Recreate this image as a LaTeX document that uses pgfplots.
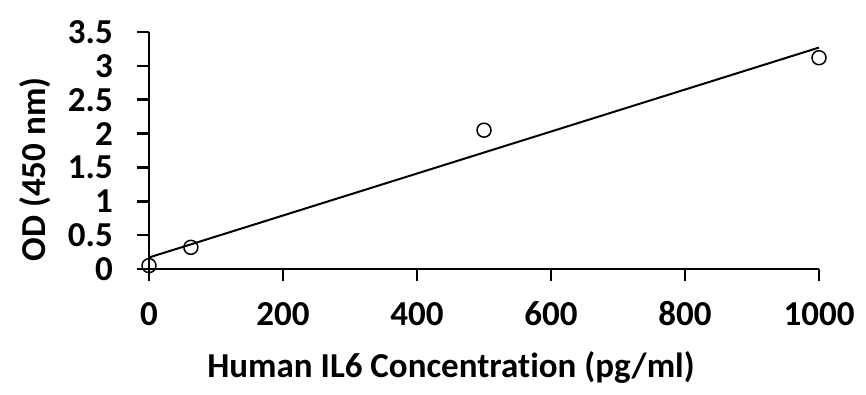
\documentclass[border=0pt]{standalone}
\usepackage{fontspec}
\setmainfont{Carlito}[Ligatures={NoCommon}]
\usepackage{pgfplots}
\pgfplotsset{compat=1.18}
\begin{document}
\begin{tikzpicture}
\begin{axis}[
  scale only axis,
  width=670pt, height=237pt,
  xmin=0, xmax=1000, ymin=0, ymax=3.5,
  axis lines=left,
  axis line style={-, line width=2.6pt, black},
  xtick={0,200,400,600,800,1000},
  ytick={0,0.5,1,1.5,2,2.5,3,3.5},
  yticklabels={0,0.5,1,1.5,2,2.5,3,3.5},
  xticklabels={0,200,400,600,800,1000},
  tick align=outside,
  major tick length=12pt,
  every tick/.style={line width=2.6pt, black},
  tick label style={font=\bfseries\fontsize{35}{35}\selectfont, inner sep=0pt},
  xticklabel style={anchor=base, yshift=-45pt},
  yticklabel style={anchor=east, xshift=-24pt},
  label style={font=\bfseries\fontsize{35}{35}\selectfont, inner sep=0pt},
  xlabel={Human IL6 Concentration (pg/ml)},
  ylabel={OD (450 nm)},
  xlabel style={at={(axis description cs:0.4507,-0.4599)}, anchor=base},
  ylabel style={at={(axis description cs:-0.1552,0.4198)}, anchor=base, rotate=0},
  clip=false,
]
\addplot[black, line width=2pt] coordinates {(0,0.17) (1000,3.27)};
\addplot[only marks, mark=o, mark size=7pt, mark options={fill=white, line width=1.5pt}, black]
  coordinates {(0,0.05) (62.5,0.32) (500,2.05) (1000,3.12)};
\coordinate (bbsw) at (rel axis cs:0,0);
\coordinate (bbne) at (rel axis cs:1,1);
\end{axis}
\pgfresetboundingbox
\path[use as bounding box] ([shift={(-149pt,-126pt)}]bbsw) rectangle ([shift={(47pt,32pt)}]bbne);
\end{tikzpicture}
\end{document}
